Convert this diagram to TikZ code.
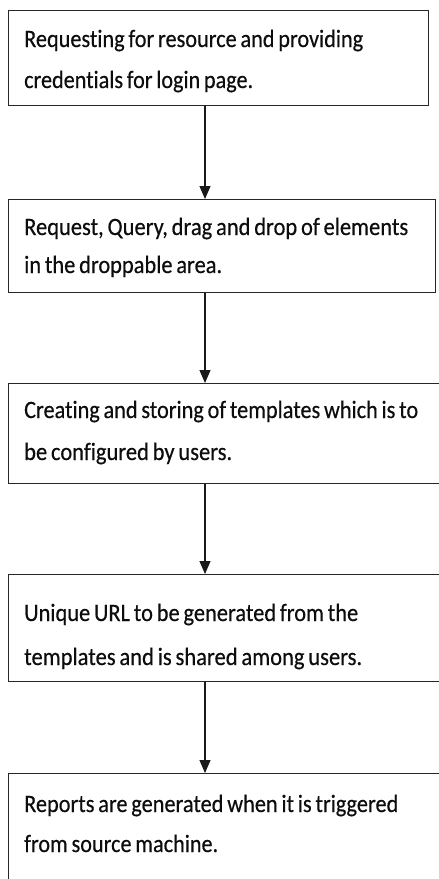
\documentclass[tikz,border=0pt]{standalone}
\usepackage{fontspec}
\setmainfont{Carlito}[Ligatures={NoCommon}, FakeBold=0.4]
\usetikzlibrary{arrows.meta}
\newcommand{\tline}[2]{\resizebox{#1}{\height}{\spaceskip=0.17em\relax #2}}
\begin{document}
\begin{tikzpicture}[x=1pt,y=-1pt,
  box/.style={draw=black!85, line width=1.4pt, fill=none, inner sep=0pt, anchor=north west},
  arr/.style={draw=black!90, line width=1.1pt, -{Triangle[width=11pt,length=13pt]}},
  txt/.style={anchor=base west, inner sep=0pt, text=black!95, font=\fontsize{25}{28}\selectfont}]
\useasboundingbox[fill=white] (0,0) rectangle (439,879);
% boxes
\node[box, minimum width=420pt, minimum height=95pt] (b1) at (8,10) {};
\node[box, minimum width=427pt, minimum height=93pt] (b2) at (8,199) {};
\node[box, minimum width=440pt, minimum height=100pt] (b3) at (8,383) {};
\node[box, minimum width=440pt, minimum height=107pt] (b4) at (8,574) {};
\node[box, minimum width=440pt, minimum height=120pt] (b5) at (8,773) {};
% texts
\node[txt] (t1a) at (24,47) {\tline{339pt}{Requesting for resource and providing}};
\node[txt] (t1b) at (24,88) {\tline{229pt}{credentials for login page.}};
\node[txt] (t2a) at (24,235) {\tline{384pt}{Request, Query, drag and drop of elements}};
\node[txt] (t2b) at (24,273) {\tline{198pt}{in the droppable area.}};
\node[txt] (t3a) at (24,418) {\tline{394pt}{Creating and storing of templates which is to}};
\node[txt] (t3b) at (24,460) {\tline{208pt}{be configured by users.}};
\node[txt] (t4a) at (24,621) {\tline{334pt}{Unique URL to be generated from the}};
\node[txt] (t4b) at (24,665) {\tline{338pt}{templates and is shared among users.}};
\node[txt] (t5a) at (24,812) {\tline{374pt}{Reports are generated when it is triggered}};
\node[txt] (t5b) at (24,852) {\tline{194pt}{from source machine.}};
% connectors
\coordinate (ax) at (205,0);
\draw[arr] (b1.south -| ax) -- (b2.north -| ax);
\draw[arr] (b2.south -| ax) -- (b3.north -| ax);
\draw[arr] (b3.south -| ax) -- (b4.north -| ax);
\draw[arr] (b4.south -| ax) -- (b5.north -| ax);
\end{tikzpicture}
\end{document}
